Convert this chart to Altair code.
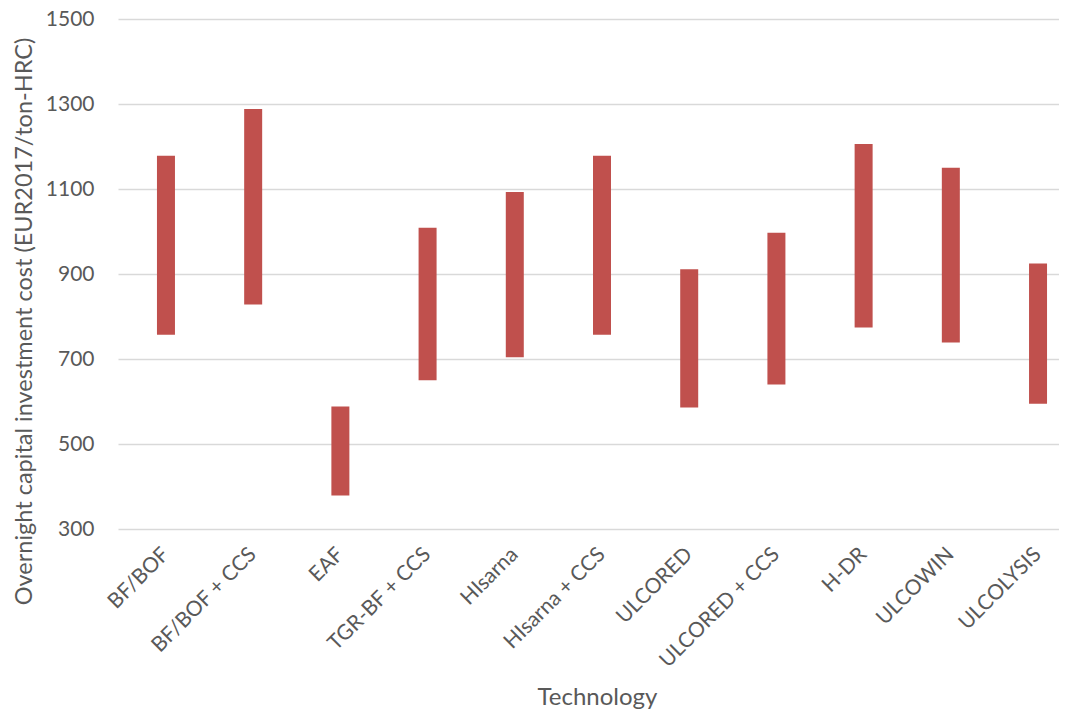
import altair as alt
import pandas as pd

technologies = ["BF/BOF", "BF/BOF + CCS", "EAF", "TGR-BF + CCS", "HIsarna",
                "HIsarna + CCS", "ULCORED", "ULCORED + CCS", "H-DR", "ULCOWIN", "ULCOLYSIS"]
low_cost = [757, 828, 379, 650, 704, 757, 586, 640, 774, 739, 595]
high_cost = [1178, 1288, 588, 1009, 1093, 1178, 911, 997, 1206, 1150, 925]

df = pd.DataFrame({"tech": technologies, "low": low_cost, "high": high_cost})

FONT = "Lato"
TXT = "#595959"

chart = alt.Chart(df).mark_bar(size=18, color="#C0504D").encode(
    x=alt.X("tech:N", sort=technologies,
            scale=alt.Scale(range=[0, 968], paddingInner=0, paddingOuter=0.05),
            axis=alt.Axis(title="Technology", labelAngle=315, labelAlign="right",
                          labelBaseline="middle", labelPadding=22, labelFontSize=21,
                          labelColor=TXT, labelFont=FONT, ticks=False, domain=False,
                          titleFont=FONT, titleFontSize=24, titleColor=TXT,
                          titleFontWeight="normal", titleX=479, titleY=175,
                          titleAlign="center", titleBaseline="alphabetic")),
    y=alt.Y("low:Q", scale=alt.Scale(domain=[300, 1500], nice=False, zero=False),
            axis=alt.Axis(title="Overnight capital investment cost (EUR2017/ton-HRC)",
                          values=[300, 500, 700, 900, 1100, 1300, 1500], format="d",
                          labelFontSize=21, labelColor=TXT, labelFont=FONT,
                          labelPadding=24, ticks=False, domain=False,
                          gridColor="#D9D9D9", gridWidth=1.5,
                          titleFont=FONT, titleFontSize=23.5, titleColor=TXT,
                          titleFontWeight="normal", titleAngle=270, titleX=-87,
                          titleY=302, titleAlign="center", titleBaseline="alphabetic")),
    y2="high:Q",
).properties(
    width=941, height=510,
    autosize=alt.AutoSizeParams(type="none"),
    padding={"left": 110, "top": 11, "right": 0, "bottom": 184},
).configure_view(stroke=None)

chart.save("out.html", embed_options={"renderer": "svg", "actions": False})
